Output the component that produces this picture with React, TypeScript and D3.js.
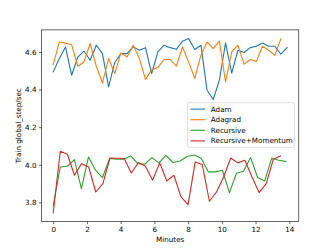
import React, { useEffect, useRef } from "react";
import * as d3 from "d3";

// throughput samples (global_step/sec), one per logging interval
const adam = [
  4.494, 4.565, 4.627, 4.476, 4.573, 4.605, 4.556, 4.636, 4.591, 4.414,
  4.544, 4.591, 4.591, 4.627, 4.609, 4.623, 4.485, 4.6, 4.636, 4.623,
  4.614, 4.657, 4.671, 4.613, 4.636, 4.396, 4.347, 4.45, 4.648, 4.488,
  4.609, 4.597, 4.623, 4.63, 4.648, 4.63, 4.63, 4.588, 4.623,
];
const adagrad = [
  4.533, 4.653, 4.647, 4.638, 4.524, 4.547, 4.645, 4.524, 4.435, 4.565,
  4.485, 4.595, 4.573, 4.636, 4.565, 4.453, 4.506, 4.517, 4.56, 4.56,
  4.524, 4.627, 4.547, 4.459, 4.582, 4.653, 4.618, 4.658, 4.44, 4.6,
  4.636, 4.535, 4.56, 4.55, 4.63, 4.609, 4.582, 4.671,
];
const recursive = [
  3.781, 3.988, 3.992, 4.027, 3.873, 4.041, 3.971, 3.932, 4.033, 4.03,
  4.029, 4.047, 4.006, 4.003, 4.038, 4.01, 4.05, 4.012, 4.02, 4.044,
  4.052, 4.035, 3.962, 3.962, 3.971, 3.852, 3.955, 3.965, 4.038, 3.932,
  3.914, 4.035, 4.024, 4.017,
];
const recursiveMomentum = [
  3.744, 4.072, 4.056, 3.944, 4.006, 3.988, 3.855, 3.9, 4.036, 4.035,
  4.033, 3.956, 4.012, 3.992, 3.918, 4.01, 3.914, 3.944, 3.829, 3.788,
  4.015, 4.001, 3.806, 3.855, 3.935, 4.036, 4.01, 4.024, 3.935, 3.852,
  3.9, 4.029, 4.047,
];

// minutes between samples for each run
const adamStep = 0.365;
const adagradStep = 0.365;
const recursiveStep = 0.418;
const recursiveMomentumStep = 0.421;

const labels = ["Adam", "Adagrad", "Recursive", "Recursive+Momentum"];
const colors = ["#1f77b4", "#ff7f0e", "#2ca02c", "#d62728"];
const xTicks = [0, 2, 4, 6, 8, 10, 12, 14];
const yTicks = [3.8, 4.0, 4.2, 4.4, 4.6];

const W = 332;
const H = 249;
const left = 41.5;
const right = 298.8;
const top = 29.9;
const bottom = 221.6;
const font = "DejaVu Sans, sans-serif";
const fs = 7.2;

const drawChart = (svgEl: SVGSVGElement) => {
  const svg = d3.select(svgEl);
  svg.selectAll("*").remove();

  const series = [
    { values: adam, step: adamStep },
    { values: adagrad, step: adagradStep },
    { values: recursive, step: recursiveStep },
    { values: recursiveMomentum, step: recursiveMomentumStep },
  ].map((s, i) => ({
    label: labels[i],
    color: colors[i],
    points: s.values.map((v, j) => [j * s.step, v] as [number, number]),
  }));

  const all = series.flatMap((s) => s.points);
  const [x0, x1] = d3.extent(all, (p) => p[0]) as [number, number];
  const [y0, y1] = d3.extent(all, (p) => p[1]) as [number, number];
  const xPad = (x1 - x0) * 0.05;
  const yPad = (y1 - y0) * 0.05;

  const x = d3.scaleLinear().domain([x0 - xPad, x1 + xPad]).range([left, right]);
  const y = d3.scaleLinear().domain([y0 - yPad, y1 + yPad]).range([bottom, top]);

  const line = d3
    .line<[number, number]>()
    .x((p) => x(p[0]))
    .y((p) => y(p[1]));

  svg.append("defs").append("clipPath").attr("id", "plotclip")
    .append("rect")
    .attr("x", left).attr("y", top)
    .attr("width", right - left).attr("height", bottom - top);

  const plot = svg.append("g").attr("clip-path", "url(#plotclip)");
  series.forEach((s) => {
    plot.append("path")
      .attr("d", line(s.points) || "")
      .attr("fill", "none")
      .attr("stroke", s.color)
      .attr("stroke-width", 1.1)
      .attr("stroke-linejoin", "round")
      .attr("stroke-linecap", "square");
  });

  const xAxis = svg.append("g")
    .attr("transform", `translate(0,${bottom})`)
    .call(
      d3.axisBottom(x).tickValues(xTicks).tickSize(2.5).tickPadding(2.5)
        .tickFormat((d) => d3.format("d")(d as number))
    );
  const yAxis = svg.append("g")
    .attr("transform", `translate(${left},0)`)
    .call(
      d3.axisLeft(y).tickValues(yTicks).tickSize(2.5).tickPadding(2.5)
        .tickFormat((d) => d3.format(".1f")(d as number))
    );
  [xAxis, yAxis].forEach((a) => {
    a.select(".domain").remove();
    a.selectAll("line").attr("stroke", "#000").attr("stroke-width", 0.6);
    a.selectAll("text")
      .attr("fill", "#000")
      .style("font-family", font)
      .style("font-size", `${fs}px`);
  });

  svg.append("rect")
    .attr("x", left).attr("y", top)
    .attr("width", right - left).attr("height", bottom - top)
    .attr("fill", "none")
    .attr("stroke", "#000")
    .attr("stroke-width", 0.6);

  svg.append("text")
    .attr("x", (left + right) / 2)
    .attr("y", 242)
    .attr("text-anchor", "middle")
    .style("font-family", font)
    .style("font-size", `${fs}px`)
    .text("Minutes");

  svg.append("text")
    .attr("transform", `translate(20.5,${(top + bottom) / 2}) rotate(-90)`)
    .attr("text-anchor", "middle")
    .style("font-family", font)
    .style("font-size", `${fs}px`)
    .text("Train global_step/sec");

  // legend, center right
  const lgX = 187.5;
  const lgY = 102.7;
  const lgW = 107;
  const lgH = 44.6;
  const lg = svg.append("g");
  lg.append("rect")
    .attr("x", lgX).attr("y", lgY)
    .attr("width", lgW).attr("height", lgH)
    .attr("rx", 1.5)
    .attr("fill", "#fff").attr("fill-opacity", 0.8)
    .attr("stroke", "#ccc").attr("stroke-width", 0.6);
  series.forEach((s, i) => {
    const cy = lgY + 6.4 + i * 10.6;
    lg.append("line")
      .attr("x1", lgX + 3).attr("x2", lgX + 17.5)
      .attr("y1", cy).attr("y2", cy)
      .attr("stroke", s.color).attr("stroke-width", 1.1);
    lg.append("text")
      .attr("x", lgX + 23.3)
      .attr("y", cy)
      .attr("dy", "0.35em")
      .style("font-family", font)
      .style("font-size", `${fs}px`)
      .text(s.label);
  });
};

const App = () => {
  const ref = useRef<SVGSVGElement>(null);
  useEffect(() => {
    if (ref.current) drawChart(ref.current);
  }, []);
  return (
    <svg
      ref={ref}
      width={W}
      height={H}
      viewBox={`0 0 ${W} ${H}`}
      style={{ position: "absolute", left: 0, top: 0, background: "#fff" }}
    ></svg>
  );
};

export default App;
